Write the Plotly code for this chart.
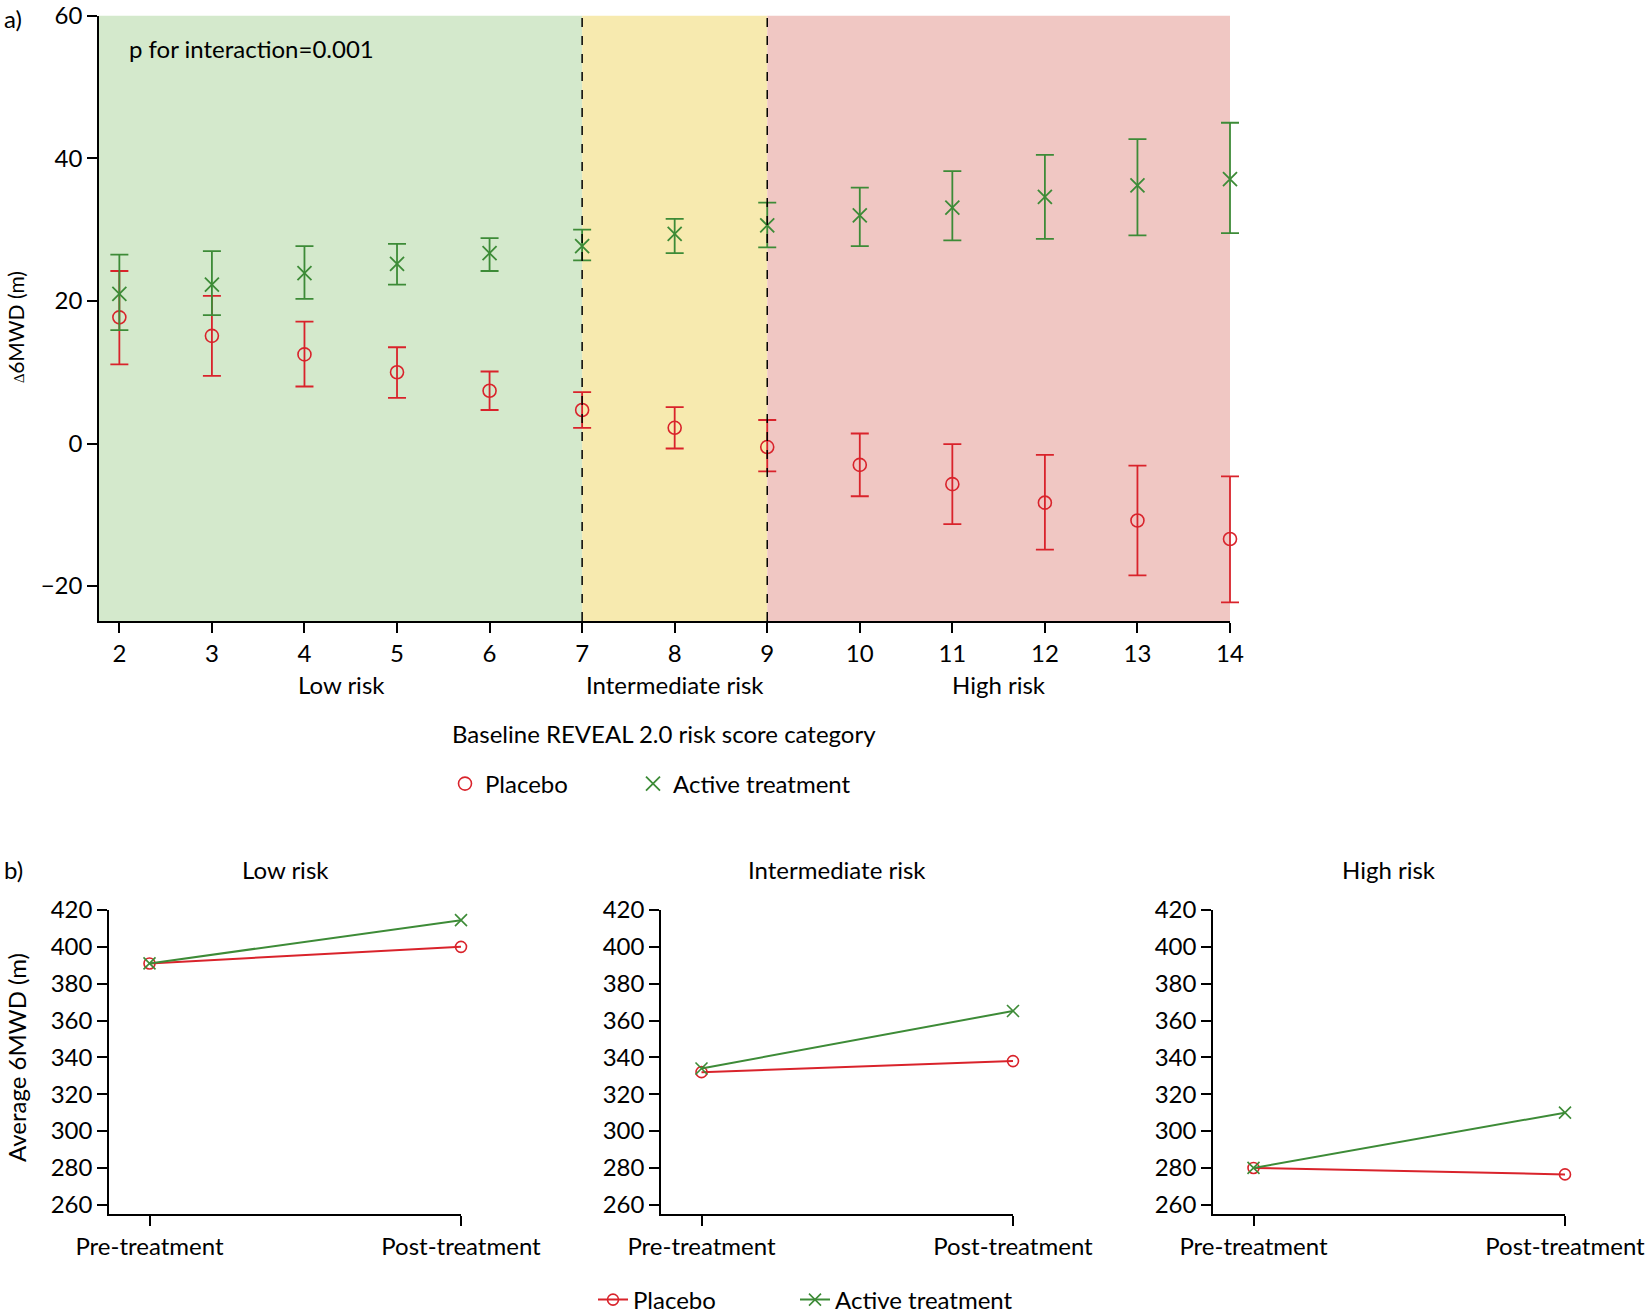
import plotly.graph_objects as go

# ---------------- data: panel a ----------------
scores = list(range(2, 15))
placebo_mean  = [17.7, 15.1, 12.5, 10.0, 7.4, 4.7, 2.2, -0.5, -3.0, -5.7, -8.3, -10.8, -13.4]
placebo_upper = [24.2, 20.7, 17.1, 13.5, 10.1, 7.2, 5.1, 3.3, 1.4, -0.1, -1.6, -3.1, -4.6]
placebo_lower = [11.1, 9.5, 8.0, 6.4, 4.7, 2.2, -0.7, -3.9, -7.4, -11.3, -14.9, -18.5, -22.3]
active_mean   = [21.0, 22.3, 23.9, 25.2, 26.7, 27.7, 29.4, 30.6, 32.0, 33.1, 34.6, 36.2, 37.1]
active_upper  = [26.5, 27.0, 27.7, 28.0, 28.8, 30.0, 31.5, 33.8, 35.9, 38.2, 40.5, 42.7, 45.0]
active_lower  = [15.9, 18.0, 20.3, 22.3, 24.2, 25.7, 26.7, 27.5, 27.7, 28.5, 28.7, 29.2, 29.5]

risk_names = ["Low risk", "Intermediate risk", "High risk"]
risk_start = [1.78, 7, 9]
risk_end = [7, 9, 14]
risk_label_x = [4.4, 8.0, 11.5]
risk_colors = ["#d4e9cc", "#f7eaaf", "#f0c7c3"]
boundaries = [7, 9]
y_ticks_a = [-20, 0, 20, 40, 60]

# ---------------- data: panel b ----------------
timepoints = ["Pre-treatment", "Post-treatment"]
panel_titles = ["Low risk", "Intermediate risk", "High risk"]
placebo_low = [391, 400]
active_low = [391, 414.5]
placebo_int = [332, 338]
active_int = [334, 365.2]
placebo_high = [280, 276.5]
active_high = [280, 310]
y_ticks_b = [260, 280, 300, 320, 340, 360, 380, 400, 420]

RED = "#d9232b"
GREEN = "#3d8b37"
FONT = "Lato"
FS = 24
W, H = 1650, 1314

# top panel geometry (pixels)
XA_L, XA_R = 99, 1230
XMIN, XMAX = 1.78, 14
PAD = 20  # invisible extension so that error bars at x=14 are not clipped
px_per_unit = (XA_R - XA_L) / (XMAX - XMIN)

fig = go.Figure()

# panel a traces (drawn on an invisible, slightly wider x axis with identical scale)
fig.add_trace(go.Scatter(
    x=scores, y=placebo_mean, mode="markers", name="Placebo",
    marker=dict(symbol="circle-open", size=13, color=RED, line=dict(width=1.6, color=RED)),
    error_y=dict(type="data", symmetric=False,
                 array=[u - m for u, m in zip(placebo_upper, placebo_mean)],
                 arrayminus=[m - l for m, l in zip(placebo_mean, placebo_lower)],
                 color=RED, thickness=1.8, width=9),
    xaxis="x5", yaxis="y", legend="legend", showlegend=True, cliponaxis=False))
fig.add_trace(go.Scatter(
    x=scores, y=active_mean, mode="markers", name="Active treatment",
    marker=dict(symbol="x-thin-open", size=14, color=GREEN, line=dict(width=1.8, color=GREEN)),
    error_y=dict(type="data", symmetric=False,
                 array=[u - m for u, m in zip(active_upper, active_mean)],
                 arrayminus=[m - l for m, l in zip(active_mean, active_lower)],
                 color=GREEN, thickness=1.8, width=9),
    xaxis="x5", yaxis="y", legend="legend3", showlegend=True, cliponaxis=False))

# panel b traces
panel_data = [(placebo_low, active_low), (placebo_int, active_int), (placebo_high, active_high)]
for i, (pl, ac) in enumerate(panel_data):
    xa = "x%d" % (i + 2)
    ya = "y%d" % (i + 2)
    fig.add_trace(go.Scatter(
        x=timepoints, y=pl, mode="lines+markers", name="Placebo",
        line=dict(color=RED, width=2),
        marker=dict(symbol="circle-open", size=11, color=RED, line=dict(width=1.6, color=RED)),
        xaxis=xa, yaxis=ya, legend="legend2", showlegend=(i == 0), cliponaxis=False))
    fig.add_trace(go.Scatter(
        x=timepoints, y=ac, mode="lines+markers", name="Active treatment",
        line=dict(color=GREEN, width=2),
        marker=dict(symbol="x-thin-open", size=12, color=GREEN, line=dict(width=1.6, color=GREEN)),
        xaxis=xa, yaxis=ya, legend="legend4", showlegend=(i == 0), cliponaxis=False))

shapes = []
for s, e, c in zip(risk_start, risk_end, risk_colors):
    shapes.append(dict(type="rect", xref="x", yref="y domain", x0=s, x1=e, y0=0, y1=1,
                       fillcolor=c, line=dict(width=0), layer="below"))
for b in boundaries:
    shapes.append(dict(type="line", xref="x", yref="y domain", x0=b, x1=b, y0=0, y1=1,
                       line=dict(color="black", width=1.5, dash="dash"), layer="above"))

annotations = []
def ann(text, x, y, xref="paper", yref="paper", xanchor="center", yanchor="middle", size=FS, angle=0):
    annotations.append(dict(text=text, x=x, y=y, xref=xref, yref=yref, xanchor=xanchor,
                            yanchor=yanchor, showarrow=False, textangle=angle,
                            font=dict(family=FONT, size=size, color="black")))

ann("a)", 2 / W, 1 - 19 / H, xanchor="left")
ann("b)", 2 / W, 1 - 869 / H, xanchor="left")
ann("p for interaction=0.001", 127 / W, 1 - 48 / H, xanchor="left")
ann("<span style='font-size:15px'>∆</span>6MWD (m)", 16 / W, 1 - 327 / H, angle=-90, size=21)
for name, lx in zip(risk_names, risk_label_x):
    ann(name, lx, 1 - 684 / H, xref="x")
ann("Baseline REVEAL 2.0 risk score category", 664 / W, 1 - 733 / H)
ann("Average 6MWD (m)", 16 / W, 1 - 1058 / H, angle=-90)
bx_domains = [[109 / W, 461 / W], [661 / W, 1013 / W], [1213 / W, 1565 / W]]
for t, d in zip(panel_titles, bx_domains):
    ann(t, (d[0] + d[1]) / 2, 1 - 869 / H)

axis_common = dict(showline=True, linecolor="black", linewidth=1.5, ticks="outside",
                   ticklen=10, tickwidth=1.5, tickcolor="black", showgrid=False, zeroline=False,
                   automargin=False,
                   tickfont=dict(family=FONT, size=FS, color="black"))

def legend_at(xpx, ypx):
    return dict(orientation="h", x=xpx / W, xanchor="left", y=1 - ypx / H, yanchor="middle",
                font=dict(family=FONT, size=FS, color="black"), visible=True,
                bgcolor="rgba(0,0,0,0)", itemwidth=30)

layout = dict(
    width=W, height=H, margin=dict(l=0, r=0, t=0, b=0, autoexpand=False),
    paper_bgcolor="white", plot_bgcolor="rgba(0,0,0,0)",
    font=dict(family=FONT, size=FS, color="black"),
    showlegend=True,
    shapes=shapes, annotations=annotations,
    xaxis=dict(domain=[XA_L / W, XA_R / W], range=[XMIN, XMAX], tickvals=scores, anchor="y", **axis_common),
    xaxis5=dict(domain=[XA_L / W, (XA_R + PAD) / W], range=[XMIN, XMAX + PAD / px_per_unit],
                anchor="y", visible=False, showgrid=False, zeroline=False, automargin=False),
    yaxis=dict(domain=[1 - 621 / H, 1 - 15.8 / H], range=[-24.9, 60], tickvals=y_ticks_a, anchor="x", **axis_common),
    legend=legend_at(445, 784),
    legend3=legend_at(633, 784),
    legend2=legend_at(593, 1300),
    legend4=legend_at(795, 1300),
)
for i, d in enumerate(bx_domains):
    n = i + 2
    layout["xaxis%d" % n] = dict(domain=d, type="category", range=[-0.13, 1.0],
                                 anchor="y%d" % n, **axis_common)
    layout["yaxis%d" % n] = dict(domain=[1 - 1214 / H, 1 - 910 / H], range=[255, 420],
                                 tickvals=y_ticks_b, anchor="x%d" % n, **axis_common)

fig.update_layout(**layout)
fig.write_html("out.html", config={"displayModeBar": False},
               post_script="document.body.style.margin='0';")
